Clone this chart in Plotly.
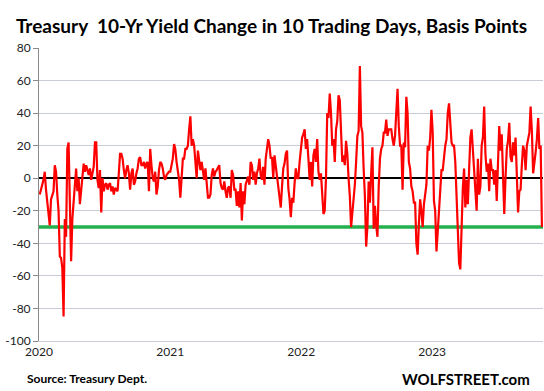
import pandas as pd
import plotly.graph_objects as go

# Half-weekly samples (every 3.5 days) of the 10-day change in the 10-yr Treasury yield, basis points
START_DATE = "2020-01-03"
SAMPLE_FREQ = "84h"
change_bp = [
    -10, -6, -4, -1, 4, -7, -15, -22, -29, -13,
    -11, -8, 8, 4, -10, -20, -48, -49, -55, -85,
    -25, -36, 18, 22, -15, -51, -25, -14, -5, 6,
    -8, 0, -16, -6, 0, 9, 4, 8, 5, 2,
    6, -1, 3, 7, 22, 22, -1, -6, 5, -21,
    0, -8, -4, -3, -7, -4, -3, -8, -5, -10,
    -6, -7, -8, 3, 15, 15, 12, 5, 0, 5,
    8, 3, -7, 3, 6, -4, -2, 3, 6, 12,
    13, 8, 8, 10, 6, 9, 10, -8, 18, 8,
    0, -2, 4, -10, -5, 5, 10, 9, 6, 1,
    -1, 2, 3, 4, 4, 8, 12, 21, 18, 10,
    5, -1, -12, -2, 12, 12, 18, 18, 20, 30,
    38, 20, 24, 20, 12, 0, 17, 11, 5, 10,
    5, -1, 6, -4, -12, -12, -10, 2, 6, 1,
    4, 5, 7, 8, -3, -6, -7, -2, -8, -12,
    -6, -5, -12, 5, 2, -7, -7, -17, -8, -18,
    -3, -26, -8, -16, -4, -1, 1, -4, 10, 8,
    -1, 4, -4, 3, 6, 12, 2, -1, 7, -4,
    12, 18, 24, 20, 12, 13, 0, 14, 8, 1,
    -3, -12, -18, -5, 6, 9, 15, 17, -6, -13,
    -24, -12, -15, -3, 6, 0, 0, 10, 20, 25,
    27, 30, 18, 24, 12, -1, 10, -5, 14, 18,
    10, 24, 4, -1, 3, -9, -22, -20, 0, 40,
    37, 52, 40, 20, 24, 10, 30, 35, 51, 48,
    30, 10, 14, 8, 23, 15, 0, -11, -30, -21,
    -16, -4, 10, 26, 29, 69, 32, 28, 6, -11,
    -42, -30, -2, -15, 3, 19, -31, -17, -29, -36,
    -5, 12, 18, 20, 28, 28, 36, 26, 30, 30,
    30, 24, 20, 26, 38, 55, 32, 20, 20, -7,
    22, 19, 50, 40, 10, 6, -5, -8, -15, -15,
    -40, -47, -28, -13, -20, -30, -16, -10, -4, 20,
    17, 25, 42, 28, -14, -20, -45, -33, -20, -2,
    5, 5, 13, 20, 24, 40, 46, 30, 22, 20,
    20, 10, -15, -38, -52, -56, -25, -6, 6, -18,
    -1, -16, 5, 25, 30, 17, 5, -8, -20, 12,
    -10, -5, 20, 25, 44, 15, 4, 9, -8, 12,
    5, 5, -4, 5, -14, 9, 32, 17, 27, 2,
    -22, 0, 18, 23, 34, 13, 10, 22, 14, 25,
    -3, -21, -8, -7, 8, 20, 17, 5, 20, 25,
    28, 44, 29, 3, 8, 16, 24, 37, 18, 20,
    -30,
]
THRESHOLD_BP = -30
Y_TICKS = [-100, -80, -60, -40, -20, 0, 20, 40, 60, 80]
X_RANGE = ["2020-01-01", "2023-11-06"]

dates = pd.date_range(START_DATE, periods=len(change_bp), freq=SAMPLE_FREQ)

fig = go.Figure()
fig.add_trace(go.Scatter(
    x=X_RANGE, y=[THRESHOLD_BP] * len(X_RANGE), mode="lines",
    line=dict(color="#22b14c", width=3.5),
    hoverinfo="skip", showlegend=False,
))
fig.add_trace(go.Scatter(
    x=dates, y=change_bp, mode="lines",
    line=dict(color="#ff0000", width=2.2),
    hoverinfo="skip", showlegend=False,
))

GRID = "#c8ccd6"
fig.update_layout(
    width=544, height=391,
    margin=dict(l=39, r=1, t=48, b=50),
    paper_bgcolor="white", plot_bgcolor="white",
    font=dict(family="Lato, 'Open Sans', sans-serif", size=12, color="#333333"),
    title=dict(
        text="<b>Treasury  10-Yr Yield Change in 10 Trading Days, Basis Points</b>",
        x=0.499, xref="container", xanchor="center",
        y=0.932, yref="container", yanchor="middle",
        font=dict(family="Lato, sans-serif", size=19, color="#000000"),
    ),
    xaxis=dict(
        type="date", range=X_RANGE,
        tick0="2020-01-01", dtick="M12", tickformat="%Y",
        showgrid=False, showline=True, linecolor=GRID, linewidth=1,
        ticks="", tickfont=dict(size=12, color="#222222"),
        zeroline=False,
    ),
    yaxis=dict(
        range=[-100, 80], tickvals=Y_TICKS, ticktext=[str(v) for v in Y_TICKS],
        showgrid=True, gridcolor=GRID, gridwidth=1,
        zeroline=True, zerolinecolor="#000000", zerolinewidth=2,
        showline=True, linecolor="#8a8a8a", linewidth=1,
        ticks="outside", ticklen=5, tickcolor="#8a8a8a",
        tickfont=dict(size=12, color="#222222"),
    ),
    annotations=[
        dict(text="<b>Source: Treasury Dept.</b>", xref="paper", yref="paper",
             x=-0.028, y=-0.128, xanchor="left", yanchor="middle", showarrow=False,
             font=dict(family="Lato, sans-serif", size=12, color="#000000")),
        dict(text="<b>WOLFSTREET.com</b>", xref="paper", yref="paper",
             x=0.848, y=-0.128, xanchor="center", yanchor="middle", showarrow=False,
             font=dict(family="Lato, sans-serif", size=15, color="#000000")),
    ],
)

fig.write_html("out.html", config={"displayModeBar": False},
               post_script="document.body.style.margin='0';")
